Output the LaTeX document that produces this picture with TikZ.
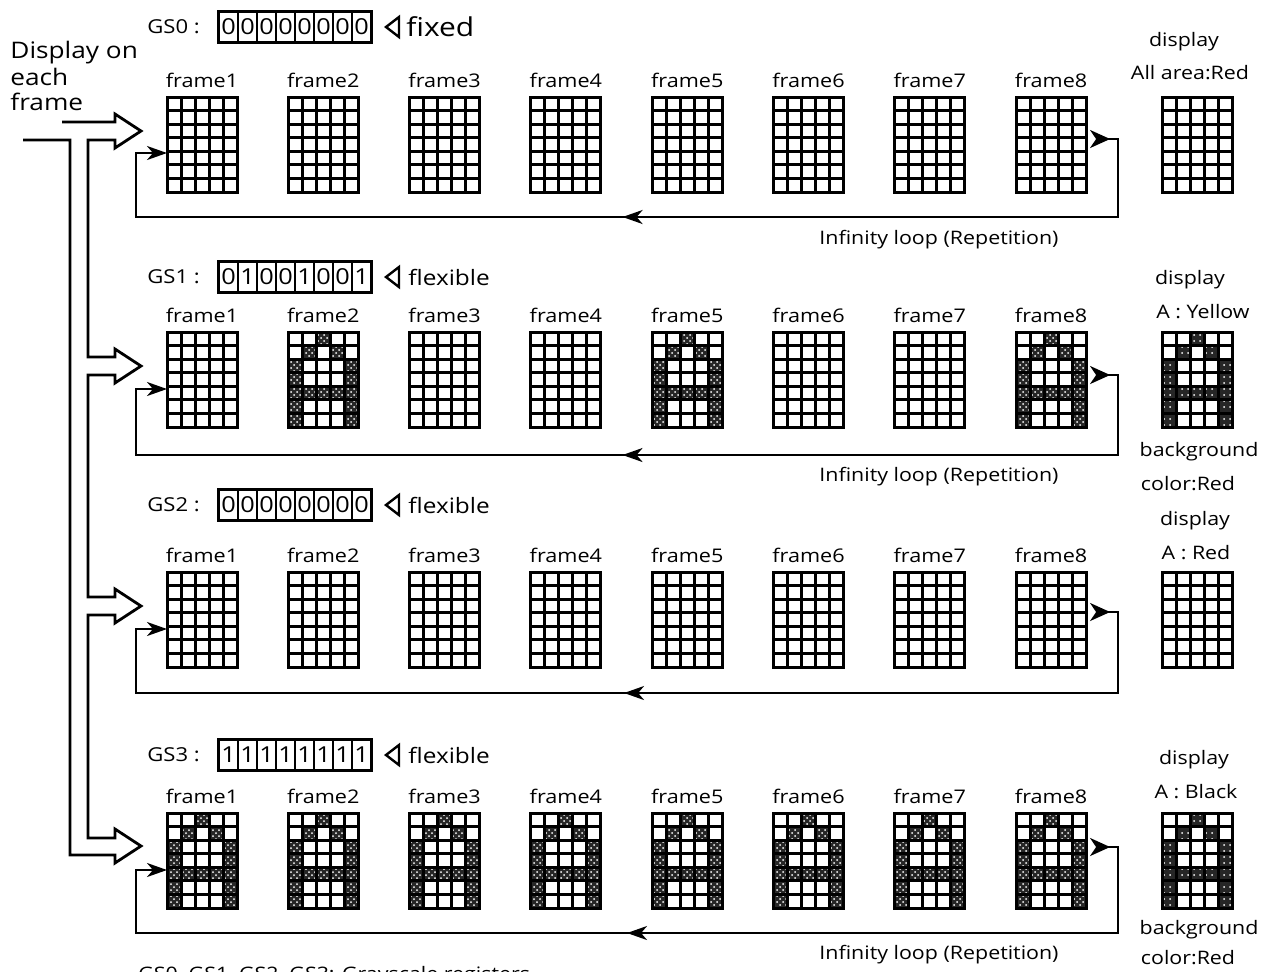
\documentclass[tikz,border=0pt]{standalone}
\usepackage{fontspec}
\setmainfont{Open Sans}[FakeStretch=1.15]
\usetikzlibrary{arrows.meta,positioning,calc,patterns,decorations.markings}

\tikzset{
  ledbox/.style={minimum width=35pt, minimum height=47.5pt, inner sep=0pt, outer sep=0pt},
  ledline/.style={line width=1.5pt},
  led0/.style={},
  led1/.style={fill=black!85, postaction={pattern=crosshatch dots, pattern color=white}},
  led2/.style={fill=black!85, postaction={pattern=dots, pattern color=white}},
  framelbl/.style={font=\fontsize{9.4}{11}\selectfont, inner sep=0pt},
  reglbl/.style={font=\fontsize{9.6}{11}\selectfont, inner sep=0pt},
  regbit/.style={draw, line width=0.8pt, minimum width=9.5pt, minimum height=15pt, inner sep=0pt, font=\fontsize{11}{11}\selectfont},
  note/.style={font=\fontsize{9.3}{11}\selectfont, inner sep=0pt},
  tri/.style={line width=1.2pt, line join=miter},
  hollow/.style={line width=1.4pt, line join=miter},
  loopline/.style={line width=1.1pt, {Stealth[reversed,length=10pt,width=9pt,inset=3pt]}-{Stealth[length=10pt,width=7pt,inset=3pt]},
    shorten <=2pt, postaction={decorate},
    decoration={markings, mark=at position 0.51 with {\arrow{Stealth[length=10pt,width=7pt,inset=3pt]}}}},
}
\def\Acells{3/1,2/2,4/2,1/3,5/3,1/4,5/4,1/5,2/5,3/5,4/5,5/5,1/6,5/6,1/7,5/7}
\newcommand{\ledgrid}[4]{%
  \node[ledbox] (#1) at ({#2},{#3+47.5}) {};
  \begin{scope}[shift={(#1.north west)}]
    \foreach \cx/\ry in \Acells {\path[#4] ({\cx*14-14},{\ry*95/7-95/7}) rectangle ++(14,{95/7});}
    \foreach \i in {1,...,4} {\draw[ledline] ({\i*14},0) -- ({\i*14},95);}
    \foreach \j in {1,...,6} {\draw[ledline] (0,{\j*95/7}) -- (70,{\j*95/7});}
    \draw[ledline] (0,0) rectangle (70,95);
  \end{scope}}

\begin{document}
\begin{tikzpicture}[x=0.5pt, y=-0.5pt]
\useasboundingbox (0,0) rectangle (1274,971);
\clip (0,0) rectangle (1274,971);

\node[anchor=base west, inner sep=0pt, font=\fontsize{11.4}{11.4}\selectfont] (title1) at (10,58) {Display on};
\node[anchor=base west, inner sep=0pt, font=\fontsize{11.4}{11.4}\selectfont] (title2) at (10,85) {each};
\node[anchor=base west, inner sep=0pt, font=\fontsize{11.4}{11.4}\selectfont] (title3) at (10,110) {frame};

\foreach \row/\top/\gy/\bits in {0/97/27/{0,0,0,0,0,0,0,0}, 1/332/277/{0,1,0,0,1,0,0,1},
                                 2/572/505/{0,0,0,0,0,0,0,0}, 3/813/755/{1,1,1,1,1,1,1,1}} {
  \foreach \b [count=\k] in \bits {
    \ledgrid{r\row f\k}{202+(\k-1)*121.3}{\top}{led\b}
    \node[framelbl, above=4.5pt of r\row f\k] (r\row l\k) {frame\k};
    \node[regbit] (gs\row b\k) at ({228.5+(\k-1)*19},\gy) {\b};
  }
  \draw[line width=1.4pt] (gs\row b1.north west) rectangle (gs\row b8.south east);
  \node[reglbl, left=9pt of gs\row b1] (gs\row) {GS\row\ :};
  \draw[tri] (386,\gy) -- (399,{\gy-10}) -- (399,{\gy+10}) -- cycle;
}
\node[anchor=west, inner sep=0pt, font=\fontsize{13}{13}\selectfont] (mode0) at (406,27) {fixed};
\node[anchor=west, inner sep=0pt, font=\fontsize{10.6}{11}\selectfont] (mode1) at (408,277) {flexible};
\node[anchor=west, inner sep=0pt, font=\fontsize{10.6}{11}\selectfont] (mode2) at (408,505) {flexible};
\node[anchor=west, inner sep=0pt, font=\fontsize{10.6}{11}\selectfont] (mode3) at (408,755) {flexible};

\draw[loopline] (r0f8.east |- 0,139) -- (1118,139) |- (136,217) |- (r0f1.west |- 0,153);
\draw[loopline] (r1f8.east |- 0,375) -- (1118,375) |- (136,455) |- (r1f1.west |- 0,389);
\draw[loopline] (r2f8.east |- 0,612) -- (1118,612) |- (136,693) |- (r2f1.west |- 0,629);
\draw[loopline] (r3f8.east |- 0,847) -- (1118,847) |- (136,933) |- (r3f1.west |- 0,870);

\node[note] (inf0) at (939,240) {Infinity loop (Repetition)};
\node[note] (inf1) at (939,477) {Infinity loop (Repetition)};
\node[note] (inf3) at (939,955) {Infinity loop (Repetition)};

\draw[hollow] (23,140) -- (70,140) -- (70,855) -- (115,855) -- (115,863) -- (141,846) -- (115,829)
  -- (115,838) -- (88,838) -- (88,615) -- (115,615) -- (115,623) -- (141,606) -- (115,589)
  -- (115,597) -- (88,597) -- (88,375) -- (115,375) -- (115,383) -- (141,366) -- (115,349)
  -- (115,357) -- (88,357) -- (88,140) -- (115,140) -- (115,148) -- (141,131) -- (115,114)
  -- (115,122) -- (62,122);

\ledgrid{r0d}{1197}{97}{led0}
\ledgrid{r1d}{1197}{332}{led2}
\ledgrid{r2d}{1197}{572}{led0}
\ledgrid{r3d}{1197}{813}{led2}
\node[note] (d0a) at (1184,42) {display};
\node[note] (d0b) at (1190,73) {All area:Red};
\node[note] (d1a) at (1190,280) {display};
\node[note] (d1b) at (1203,312) {A : Yellow};
\node[note] (d1c) at (1199,452) {background};
\node[note] (d1d) at (1188,484) {color:Red};
\node[note] (d2a) at (1195,521) {display};
\node[note] (d2b) at (1196,553) {A : Red};
\node[note] (d3a) at (1194,760) {display};
\node[note] (d3b) at (1196,792) {A : Black};
\node[note] (d3c) at (1199,930) {background};
\node[note] (d3d) at (1188,958) {color:Red};

\node[note, anchor=north west] (foot) at (138,966) {GS0, GS1, GS2, GS3: Grayscale registers};
\end{tikzpicture}
\end{document}
